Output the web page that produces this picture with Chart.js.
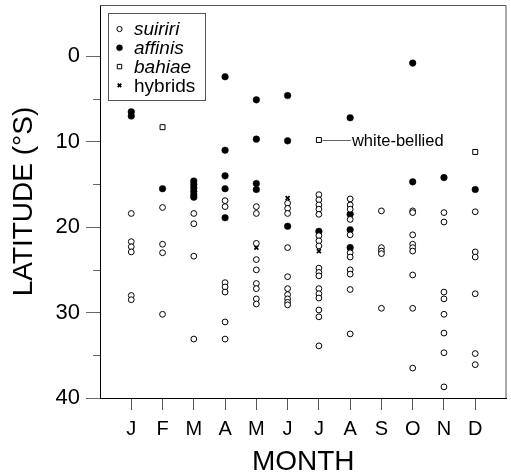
<!DOCTYPE html>
<html>
<head>
<meta charset="utf-8">
<script src="https://cdn.jsdelivr.net/npm/chart.js@4/dist/chart.umd.min.js"></script>
<style>
  html, body { margin: 0; padding: 0; background: #fff; }
  canvas { display: block; }
</style>
</head>
<body>
<canvas id="latChart" width="511" height="476"></canvas>
<script>
// month labels on the x axis (x = 1..12)
const months = ['J', 'F', 'M', 'A', 'M', 'J', 'J', 'A', 'S', 'O', 'N', 'D'];

// latitudes (deg S), one list per month, Jan..Dec
const suiriri = [
    [18.4, 21.7, 22.3, 22.9, 28.0, 28.5],
    [17.7, 22.0, 23.0, 30.2],
    [18.4, 19.6, 23.4, 33.1],
    [16.9, 17.6, 26.5, 27.0, 27.6, 31.1, 33.1],
    [17.6, 18.4, 21.9, 23.8, 25.0, 26.6, 27.2, 28.4, 29.0],
    [17.2, 17.8, 18.4, 22.4, 25.8, 27.2, 27.9, 28.4, 28.8, 29.1],
    [16.2, 16.8, 17.4, 17.9, 18.5, 21.0, 21.6, 22.2, 24.8, 25.3, 25.7, 27.2, 27.8, 28.3, 29.7, 30.5, 33.9],
    [16.7, 17.4, 17.9, 19.1, 20.9, 23.0, 23.5, 25.0, 25.5, 27.3, 32.5],
    [18.1, 22.4, 22.8, 23.1, 29.5],
    [18.1, 18.3, 20.9, 22.0, 22.4, 22.8, 25.6, 29.5, 36.5],
    [18.3, 19.4, 27.6, 28.4, 30.2, 32.4, 34.7, 38.7],
    [18.2, 22.9, 23.5, 27.8, 34.8, 36.1]
];
const affinis = [
    [6.5, 7.0],
    [15.5],
    [14.6, 15.0, 15.4, 15.8, 16.2, 16.5],
    [2.4, 11.0, 14.0, 15.5, 18.9],
    [5.1, 9.7, 14.9, 15.6],
    [4.6, 9.9, 19.9],
    [20.5],
    [7.2, 18.5, 20.3, 22.4],
    [],
    [0.8, 14.7],
    [14.2],
    [15.6]
];
const bahiae = [[], [8.3], [], [], [], [], [9.8], [], [], [], [], [11.2]];
const hybrids = [[], [], [], [], [22.4], [16.6], [22.8], [22.6], [], [], [], []];

const yTicks = [0, 10, 20, 30, 40];
const yMinorTicks = [5, 15, 25, 35];
const speciesNames = ['suiriri', 'affinis', 'bahiae', 'hybrids'];
const noteText = 'white-bellied';

const FONT = "'Liberation Sans', Arial, Helvetica, sans-serif";

function toPoints(byMonth) {
    return byMonth.flatMap((lats, i) => lats.map(lat => ({ x: i + 1, y: lat })));
}

const styles = [
    { pointStyle: 'circle', radius: 2.9, backgroundColor: '#fff', borderColor: '#000', borderWidth: 1 },
    { pointStyle: 'circle', radius: 3.3, backgroundColor: '#000', borderColor: '#000', borderWidth: 0.5 },
    { pointStyle: 'rect', radius: 3.5, backgroundColor: '#fff', borderColor: '#000', borderWidth: 1 },
    { pointStyle: 'crossRot', radius: 2.8, backgroundColor: '#000', borderColor: '#000', borderWidth: 1.7 }
];

const extras = {
    id: 'extras',
    afterDraw(chart) {
        const ctx = chart.ctx;
        const area = chart.chartArea;
        const xs = chart.scales.x;
        const ys = chart.scales.y;
        ctx.save();

        // top and right frame
        ctx.strokeStyle = '#555';
        ctx.lineWidth = 1;
        ctx.beginPath();
        ctx.moveTo(area.left, area.top + 0.5);
        ctx.lineTo(area.right - 0.5, area.top + 0.5);
        ctx.lineTo(area.right - 0.5, area.bottom);
        ctx.stroke();

        // minor y ticks
        ctx.strokeStyle = '#666';
        yMinorTicks.forEach(v => {
            const py = Math.round(ys.getPixelForValue(v)) + 0.5;
            ctx.beginPath();
            ctx.moveTo(area.left - 7, py);
            ctx.lineTo(area.left, py);
            ctx.stroke();
        });

        // legend box
        const bx = 108, by = 13, bw = 97, bh = 87;
        ctx.fillStyle = '#fff';
        ctx.fillRect(bx, by, bw, bh);
        ctx.strokeStyle = '#555';
        ctx.strokeRect(bx + 0.5, by + 0.5, bw, bh);
        speciesNames.forEach((name, i) => {
            const ly = 29 + i * 18.8;
            const st = styles[i];
            ctx.fillStyle = st.backgroundColor;
            ctx.strokeStyle = st.borderColor;
            ctx.lineWidth = st.borderWidth;
            Chart.helpers.drawPoint(ctx, { pointStyle: st.pointStyle, radius: st.radius * 0.9, rotation: 0, borderWidth: st.borderWidth }, 119.5, ly);
            ctx.fillStyle = '#000';
            ctx.font = (i < 3 ? 'italic ' : '') + '19px ' + FONT;
            ctx.textBaseline = 'middle';
            ctx.textAlign = 'left';
            ctx.fillText(name, 134, ly + 1);
        });

        // white-bellied note, tied to the July bahiae point
        const px = xs.getPixelForValue(7);
        const py = ys.getPixelForValue(bahiae[6][0]);
        ctx.strokeStyle = '#666';
        ctx.lineWidth = 1;
        ctx.beginPath();
        ctx.moveTo(px + 3.5, Math.round(py) + 0.5);
        ctx.lineTo(px + 32, Math.round(py) + 0.5);
        ctx.stroke();
        ctx.fillStyle = '#000';
        ctx.font = '16.5px ' + FONT;
        ctx.textBaseline = 'middle';
        ctx.fillText(noteText, px + 33, py + 1);

        ctx.restore();
    }
};

const ctx = document.getElementById('latChart').getContext('2d');
const series = [suiriri, affinis, bahiae, hybrids];

new Chart(ctx, {
    type: 'scatter',
    data: {
        datasets: series.map((s, i) => ({
            label: speciesNames[i],
            data: toPoints(s),
            pointStyle: styles[i].pointStyle,
            pointRadius: styles[i].radius,
            pointBackgroundColor: styles[i].backgroundColor,
            pointBorderColor: styles[i].borderColor,
            pointBorderWidth: styles[i].borderWidth,
            pointHoverRadius: styles[i].radius
        }))
    },
    options: {
        responsive: false,
        animation: false,
        devicePixelRatio: 1,
        layout: { padding: { top: 5, right: 3, left: 0, bottom: 0 } },
        plugins: {
            legend: { display: false },
            tooltip: { enabled: false }
        },
        scales: {
            x: {
                type: 'linear',
                min: 0,
                max: 13,
                afterBuildTicks: axis => { axis.ticks = months.map((m, i) => ({ value: i + 1 })); },
                afterFit: axis => {
                    axis.height = 78;
                    axis.paddingLeft = 0;
                    axis.paddingRight = 0;
                },
                ticks: {
                    autoSkip: false,
                    maxRotation: 0,
                    padding: 7,
                    color: '#000',
                    font: { family: FONT, size: 20 },
                    callback: v => months[v - 1]
                },
                grid: { drawOnChartArea: false, drawTicks: true, tickLength: 12, tickColor: '#555' },
                border: { display: true, color: '#000', width: 1 },
                title: {
                    display: true,
                    text: 'MONTH',
                    color: '#000',
                    font: { family: FONT, size: 28, lineHeight: 1 },
                    padding: { top: 0, bottom: 0 }
                }
            },
            y: {
                type: 'linear',
                reverse: true,
                min: -6,
                max: 40,
                afterBuildTicks: axis => { axis.ticks = yTicks.map(v => ({ value: v })); },
                afterFit: axis => {
                    axis.width = 100;
                    axis.paddingTop = 0;
                    axis.paddingBottom = 0;
                },
                ticks: {
                    padding: 6,
                    color: '#000',
                    font: { family: FONT, size: 22 }
                },
                grid: { drawOnChartArea: false, drawTicks: true, tickLength: 14, tickColor: '#666' },
                border: { display: true, color: '#000', width: 1 },
                title: {
                    display: true,
                    text: 'LATITUDE (°S)',
                    color: '#000',
                    font: { family: FONT, size: 28 },
                    padding: { top: 7, bottom: 0 }
                }
            }
        }
    },
    plugins: [extras]
});
</script>
</body>
</html>
